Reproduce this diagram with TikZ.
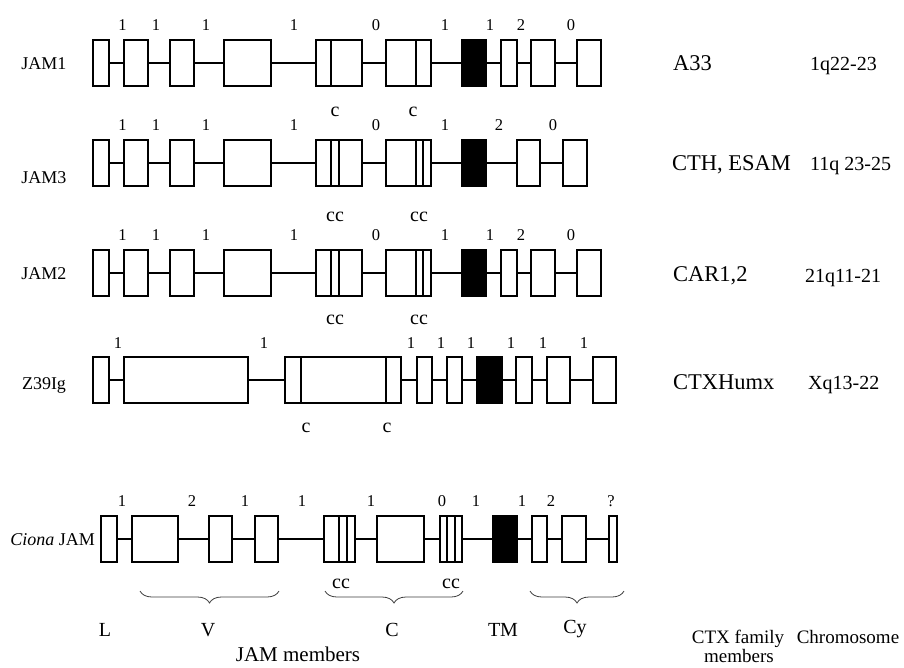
\documentclass[tikz,border=0pt]{standalone}
\usepackage{fontspec}
\setmainfont{Liberation Serif}
\usetikzlibrary{decorations.pathreplacing}
\newcommand\generow[3]{%
  \foreach [count=\i] \a/\b/\f in {#3} {%
    \node[exon,fill=\f,minimum width={\b-\a}] (#1\i) at ({(\a+\b)/2},#2) {};}}
\newcommand\introns[2]{%
  \foreach \i [count=\j from 2] in {1,...,#2} {\draw[intron] (#1\i.east) -- (#1\j.west);}}
\newcommand\nums[3]{%
  \foreach [count=\i] \x/\t in {#3} {\node[num] (#1n\i) at (\x,#2) {\t};}}
\begin{document}
\begin{tikzpicture}[x=1pt,y=-1pt,
  exon/.style={draw,line width=1.6pt,inner sep=0pt,minimum height=46pt},
  intron/.style={line width=1.6pt},
  split/.style={line width=1.4pt},
  num/.style={font=\fontsize{16.5}{16.5}\selectfont,inner sep=0pt,anchor=base},
  clab/.style={font=\fontsize{20}{20}\selectfont,inner sep=0pt,anchor=base},
  genelab/.style={font=\fontsize{18}{18}\selectfont,inner sep=0pt,anchor=base},
  famlab/.style={font=\fontsize{22.5}{22.5}\selectfont,inner sep=0pt,anchor=base west},
  chrlab/.style={font=\fontsize{20}{20}\selectfont,inner sep=0pt,anchor=base west},
  domlab/.style={font=\fontsize{20}{20}\selectfont,inner sep=0pt,anchor=base},
  foot/.style={font=\fontsize{19}{19}\selectfont,inner sep=0pt,anchor=base},
  brc/.style={decorate,decoration={brace,mirror,amplitude=12pt},line width=0.8pt,draw=black!75},
]
\useasboundingbox[fill=white] (0,0) rectangle (904,667);

% ---------------- JAM1 ----------------
\generow{a}{63}{93/109/white,124/148/white,170/194/white,224/271/white,316/362/white,386/431/white,462/486/black,501/517/white,531/555/white,577/601/white}
\introns{a}{9}
\draw[split] (331,40) -- (331,86);
\draw[split] (416,40) -- (416,86);
\nums{a}{30}{122.5/1,156/1,206/1,294/1,376/0,445/1,490/1,521/2,571/0}
\node[clab] (ac1) at (335,116) {c};
\node[clab] (ac2) at (413,116) {c};
\node[genelab] (alab) at (44,69) {JAM1};
\node[famlab] (afam) at (673,70.5) {A33};
\node[chrlab] (achr) at (810,70) {1q22-23};

% ---------------- JAM3 ----------------
\generow{b}{163}{93/109/white,124/148/white,170/194/white,224/271/white,316/362/white,386/431/white,462/486/black,517/540/white,563/587/white}
\introns{b}{8}
\foreach \x in {331,339,416,423} {\draw[split] (\x,140) -- (\x,186);}
\nums{b}{130}{122.5/1,156/1,206/1,294/1,376/0,445/1,499/2,553/0}
\node[clab] (bc1) at (335,221) {cc};
\node[clab] (bc2) at (419,221) {cc};
\node[genelab] (blab) at (44,183) {JAM3};
\node[famlab] (bfam) at (672,170.5) {CTH, ESAM};
\node[chrlab] (bchr) at (810,170) {11q 23-25};

% ---------------- JAM2 ----------------
\generow{c}{273}{93/109/white,124/148/white,170/194/white,224/271/white,316/362/white,386/431/white,462/486/black,501/517/white,531/555/white,577/601/white}
\introns{c}{9}
\foreach \x in {331,339,416,423} {\draw[split] (\x,250) -- (\x,296);}
\nums{c}{240}{122.5/1,156/1,206/1,294/1,376/0,445/1,490/1,521/2,571/0}
\node[clab] (cc1) at (335,324) {cc};
\node[clab] (cc2) at (419,324) {cc};
\node[genelab] (clab) at (44,279) {JAM2};
\node[famlab] (cfam) at (673,281) {CAR1,2};
\node[chrlab] (cchr) at (805,282) {21q11-21};

% ---------------- Z39Ig ----------------
\generow{d}{380}{93/109/white,124/248/white,285/401/white,417/432/white,447/462/white,477/502/black,516/532/white,547/570/white,593/616/white}
\introns{d}{8}
\draw[split] (301,357) -- (301,403);
\draw[split] (386,357) -- (386,403);
\nums{d}{348}{118/1,264/1,411/1,441/1,471/1,511/1,543/1,584/1}
\node[clab] (dc1) at (306,432) {c};
\node[clab] (dc2) at (387,432) {c};
\node[genelab] (dlab) at (44,389) {Z39Ig};
\node[famlab] (dfam) at (673,389.5) {CTXHumx};
\node[chrlab] (dchr) at (808,389) {Xq13-22};

% ---------------- Ciona JAM ----------------
\generow{e}{539}{101/117/white,132/178/white,209/232/white,255/278/white,324/355/white,377/424/white,440/462/white,493/517/black,532/547/white,562/586/white,609/617/white}
\introns{e}{10}
\foreach \x in {339,347,447,455} {\draw[split] (\x,516) -- (\x,562);}
\nums{e}{506}{122/1,192/2,245/1,302/1,371/1,442/0,476/1,522/1,551/2,611/?}
\node[clab] (ec1) at (341,588) {cc};
\node[clab] (ec2) at (451,588) {cc};
\node[genelab,anchor=base east] (elab) at (95,545) {\textit{Ciona} JAM};

% ---------------- domains ----------------
\coordinate (vL) at (140,591); \coordinate (vR) at (279,591);
\coordinate (cL) at (325,591); \coordinate (cR) at (463,591);
\coordinate (yL) at (530,591); \coordinate (yR) at (624,591);
\draw[brc] (vL) -- (vR);
\draw[brc] (cL) -- (cR);
\draw[brc] (yL) -- (yR);
\node[domlab] (dL) at (105,636) {L};
\node[domlab] (dV) at (208,636) {V};
\node[domlab] (dC) at (392,636) {C};
\node[domlab] (dTM) at (503,636) {TM};
\node[domlab] (dCy) at (575,633) {Cy};
\node[foot,font=\fontsize{21}{21}\selectfont] (jm) at (298,661) {JAM members};
\node[foot] (ctx1) at (738,643) {CTX family};
\node[foot] (ctx2) at (739,662) {members};
\node[foot] (chrom) at (848,643) {Chromosome};
\end{tikzpicture}
\end{document}
